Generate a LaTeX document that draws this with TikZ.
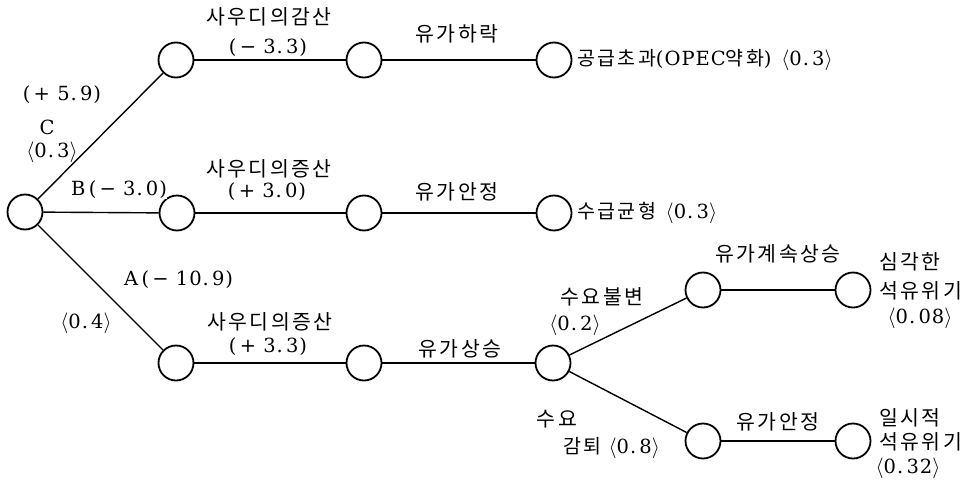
\documentclass[tikz,border=0pt]{standalone}
\usepackage{fontspec}
\setmainfont{DejaVu Serif}[LetterSpace=5]
\newfontfamily\kr[LetterSpace=12]{Noto Sans CJK KR}
\newcommand{\mns}{\,−\ }
\newcommand{\pls}{\,+\ }
\newcommand{\lan}{$\langle$}
\newcommand{\ran}{$\rangle$}
\begin{document}
\begin{tikzpicture}[x=1pt,y=-1pt,
  ev/.style={circle,draw,line width=1.8pt,minimum size=35pt,inner sep=0pt,fill=white},
  br/.style={line width=1.4pt},
  lab/.style={inner sep=1pt,font=\fontsize{19.5}{21}\selectfont},
  krl/.style={inner sep=1pt,font=\fontsize{20.5}{22}\selectfont\kr}]
\path[use as bounding box,fill=white] (0,0) rectangle (976,479);
% decision nodes
\node[ev] (r) at (25,212) {};
\node[ev] (t1) at (176,60) {};
\node[ev] (t2) at (364,60) {};
\node[ev] (t3) at (554,60) {};
\node[ev] (m1) at (177,213) {};
\node[ev] (m2) at (364,213) {};
\node[ev] (m3) at (554,213) {};
\node[ev] (b1) at (176,363) {};
\node[ev] (b2) at (364,363) {};
\node[ev] (b3) at (553,363) {};
\node[ev] (u1) at (703,290) {};
\node[ev] (u2) at (853,290) {};
\node[ev] (l1) at (703,441) {};
\node[ev] (l2) at (853,441) {};
% connectors
\draw[br] (r) -- (t1);
\draw[br] (r) -- (m1);
\draw[br] (r) -- (b1);
\draw[br] (t1) -- (t2);
\draw[br] (t2) -- (t3);
\draw[br] (m1) -- (m2);
\draw[br] (m2) -- (m3);
\draw[br] (b1) -- (b2);
\draw[br] (b2) -- (b3);
\draw[br] (b3) -- (u1);
\draw[br] (b3) -- (l1);
\draw[br] (u1) -- (u2);
\draw[br] (l1) -- (l2);
% labels: top branch
\node[krl] (tA) at (269,17) {사우디의감산};
\node[lab] (tB) at (268,48) {(\mns3.\,3)};
\node[lab] (c1) at (62,95) {(\pls5.\,9)};
\node[lab] (c2) at (47,127) {C};
\node[lab] (c3) at (52,152) {\lan 0.\,3\ran};
\node[krl] (tC) at (457,34) {유가하락};
\node[lab,anchor=west] (tD) at (576,60) {{\kr 공급초과}(OPEC{\kr 약화})\enspace\lan 0.\,3\ran};
% middle branch
\node[lab,anchor=west,fill=white,inner sep=0pt] (bB) at (71,190) {B\,(\mns3.\,0)};
\node[krl] (mA) at (269,169) {사우디의증산};
\node[lab] (mB) at (267,192) {(\pls3.\,0)};
\node[krl] (mC) at (457,192) {유가안정};
\node[lab,anchor=west] (mD) at (576,213) {{\kr 수급균형}\enspace\lan 0.\,3\ran};
% bottom branch
\node[lab,anchor=west] (aA) at (123,280) {A\,(\mns10.\,9)};
\node[lab] (aB) at (86,323) {\lan 0.\,4\ran};
\node[krl] (bA) at (270,322) {사우디의증산};
\node[lab] (bC) at (268,347) {(\pls3.\,3)};
\node[krl] (bD) at (460,349) {유가상승};
\node[krl] (dA) at (602,297) {수요불변};
\node[lab] (dB) at (575,325) {\lan 0.\,2\ran};
\node[krl] (dC) at (557,419) {수요};
\node[lab,anchor=west] (dD) at (562,448) {{\kr 감퇴}\ \lan 0.\,8\ran};
\node[krl] (uA) at (778,254) {유가계속상승};
\node[krl] (lA) at (778,422) {유가안정};
\node[krl,anchor=west] (uB) at (878,262) {심각한};
\node[krl,anchor=west] (uC) at (878,291) {석유위기};
\node[lab] (uD) at (920,318) {\lan 0.\,08\ran};
\node[krl,anchor=west] (lB) at (878,418) {일시적};
\node[krl,anchor=west] (lC) at (878,442) {석유위기};
\node[lab,inner sep=0pt] (lD) at (908,468) {\lan 0.\,32\ran};
\end{tikzpicture}
\end{document}
